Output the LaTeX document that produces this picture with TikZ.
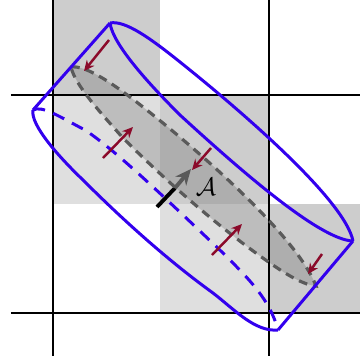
\documentclass[tikz,border=0pt]{standalone}
\usepackage{amsmath}
\usepackage{xcolor}
\usetikzlibrary{arrows.meta}
\definecolor{cellDark}{HTML}{CDCDCD}
\definecolor{cellLight}{HTML}{DFDFDF}
\definecolor{tubeBlue}{HTML}{3300EE}
\definecolor{fluxRed}{HTML}{8B0A2A}
\definecolor{diskGray}{HTML}{5A5A5A}
\tikzset{
  gridline/.style={black,line width=0.9pt},
  tube/.style={tubeBlue,line width=1.7pt,line join=round},
  tubeback/.style={tube,dash pattern=on 7pt off 5pt},
  disk/.style={diskGray,line width=1.8pt,fill=black,fill opacity=0.15,dash pattern=on 5pt off 3.5pt},
  flux/.style={fluxRed,line width=1.4pt,-{Stealth[length=6pt,width=5.5pt]}},
  normal/.style={black,line width=2.2pt},
  normalhead/.style={diskGray,line width=2.2pt,-{Stealth[length=9pt,width=8pt]}}
}
\begin{document}
\begin{tikzpicture}[x=0.02cm,y=-0.02cm]
  \useasboundingbox (0,0) rectangle (360,360);
  % cells
  \fill[cellDark] (53,0) rectangle (160,95);
  \fill[cellDark] (160,95) rectangle (268,204);
  \fill[cellDark] (268,204) rectangle (360,313);
  \fill[cellLight] (53,95) rectangle (160,204);
  \fill[cellLight] (160,204) rectangle (268,313);
  % grid
  \coordinate (gw1) at (11,95);  \coordinate (ge1) at (360,95);
  \coordinate (gw2) at (11,313); \coordinate (ge2) at (360,313);
  \coordinate (gn1) at (53,0); \coordinate (gs1) at (53,356);
  \coordinate (gn2) at (269,0); \coordinate (gs2) at (269,356);
  \draw[gridline] (gw1) -- (ge1) (gw2) -- (ge2) (gn1) -- (gs1) (gn2) -- (gs2);
  % normal vector, foot part
  \coordinate (nfoot) at (157,207);
  \coordinate (nmid) at (175,188);
  \coordinate (ntip) at (191,169);
  \draw[normal] (nfoot) -- (nmid);
  % surface
  \draw[disk] (71,67) .. controls (85,65) and (110,82) .. (130,97)
    .. controls (170,127) and (295,230) .. (316,286)
    .. controls (305,285) and (290,277) .. (270,263)
    .. controls (215,225) and (160,175) .. (123,138)
    .. controls (100,112) and (75,85) .. cycle;
  \draw[normalhead] (nmid) -- (ntip);
  \node (area) at (206,187) {\Large$\mathcal{A}$};
  % tube
  \coordinate (topW) at (110,23);
  \coordinate (topE) at (353,241);
  \coordinate (botW) at (33,110);
  \coordinate (botE) at (278,330);
  \draw[tube] (topW) -- (botW) (topE) -- (botE);
  \draw[tube] (topW) .. controls (125,20) and (150,38) .. (180,62)
    .. controls (240,110) and (345,200) .. (topE);
  \draw[tube] (topW) .. controls (113,45) and (150,85) .. (180,115)
    .. controls (240,170) and (320,240) .. (topE);
  \draw[tube] (botW) .. controls (30,125) and (60,158) .. (83,180)
    .. controls (125,222) and (170,262) .. (213,293)
    .. controls (235,310) and (255,332) .. (botE);
  \draw[tubeback] (botW) .. controls (42,105) and (60,117) .. (85,130)
    .. controls (115,150) and (160,193) .. (223,253)
    .. controls (250,280) and (270,300) .. (botE);
  % flux arrows
  \coordinate (fa1) at (109,40);  \coordinate (fb1) at (84,71);
  \coordinate (fa2) at (103,158); \coordinate (fb2) at (133,127);
  \coordinate (fa3) at (211,148); \coordinate (fb3) at (192,170);
  \coordinate (fa4) at (212,255); \coordinate (fb4) at (242,224);
  \coordinate (fa5) at (322,254); \coordinate (fb5) at (308,274);
  \foreach \i in {1,...,5}
    \draw[flux] (fa\i) -- (fb\i);
\end{tikzpicture}
\end{document}
